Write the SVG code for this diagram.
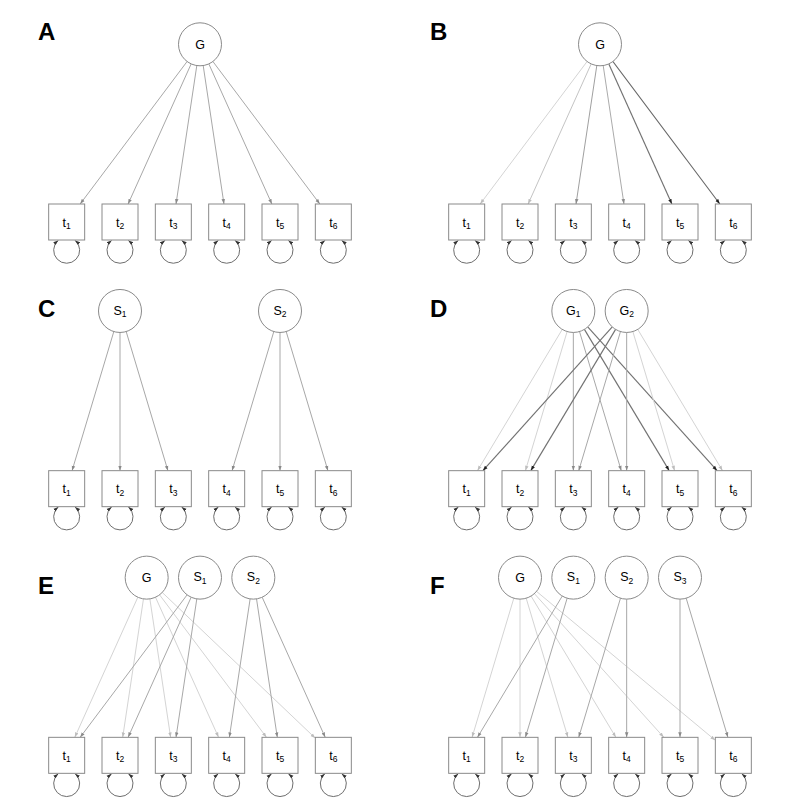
<svg xmlns="http://www.w3.org/2000/svg" width="800" height="800" viewBox="0 0 800 800">
  <style>
    .bg { fill: #ffffff; }
    .panel-label { font-family: "Liberation Sans", Arial, sans-serif; font-size: 24px; font-weight: bold; fill: #000; }
    .lat circle { fill: #ffffff; stroke: #8a8a8a; stroke-width: 1; }
    .obs rect { fill: #ffffff; stroke: #8a8a8a; stroke-width: 1; }
    .lbl { font-family: "Liberation Sans", Arial, sans-serif; font-size: 12.5px; fill: #000; text-anchor: middle; }
    .sub { font-size: 8.5px; }
    .edges line { fill: none; }
    .lt { stroke: #d4d4d4; stroke-width: 1; marker-end: url(#ah-l); }
    .lt2 { stroke: #c4c4c4; stroke-width: 1; marker-end: url(#ah-l); }
    .md { stroke: #a8a8a8; stroke-width: 1; marker-end: url(#ah-m); }
    .dk { stroke: #727272; stroke-width: 1.15; marker-end: url(#ah-d); }
    .loop { fill: none; stroke: #6e6e6e; stroke-width: 1; marker-start: url(#ah-loop); marker-end: url(#ah-loop); }
  </style>
  <defs>
    <marker id="ah-l" viewBox="0 0 10 10" refX="10" refY="5" markerWidth="5" markerHeight="5" markerUnits="userSpaceOnUse" orient="auto">
      <path d="M0,1.5L10,5L0,8.5z" fill="#bdbdbd"/>
    </marker>
    <marker id="ah-m" viewBox="0 0 10 10" refX="10" refY="5" markerWidth="5" markerHeight="5" markerUnits="userSpaceOnUse" orient="auto">
      <path d="M0,1.5L10,5L0,8.5z" fill="#8a8a8a"/>
    </marker>
    <marker id="ah-d" viewBox="0 0 10 10" refX="10" refY="5" markerWidth="5" markerHeight="5" markerUnits="userSpaceOnUse" orient="auto">
      <path d="M0,1.5L10,5L0,8.5z" fill="#222"/>
    </marker>
    <marker id="ah-loop" viewBox="0 0 10 10" refX="10" refY="5" markerWidth="5" markerHeight="5" markerUnits="userSpaceOnUse" orient="auto-start-reverse">
      <path d="M0,1.5L10,5L0,8.5z" fill="#333"/>
    </marker>
  </defs>

  <rect class="bg" x="0" y="0" width="800" height="800"/>

  <!-- panel letters -->
  <g id="panel-labels">
    <text class="panel-label" x="38" y="40">A</text>
    <text class="panel-label" x="430" y="40">B</text>
    <text class="panel-label" x="38" y="317">C</text>
    <text class="panel-label" x="430" y="317">D</text>
    <text class="panel-label" x="38" y="594">E</text>
    <text class="panel-label" x="430" y="594">F</text>
  </g>

  <!-- ===== connectors ===== -->
  <g id="connectors" class="edges">
    <!-- A: single general factor -->
    <g id="edges-A">
      <line class="md" x1="187.10" y1="61.50" x2="80.18" y2="204"/>
      <line class="md" x1="191.17" y1="63.90" x2="128.10" y2="204"/>
      <line class="md" x1="196.81" y1="65.56" x2="176.03" y2="204"/>
      <line class="md" x1="203.19" y1="65.56" x2="223.97" y2="204"/>
      <line class="md" x1="208.83" y1="63.90" x2="271.90" y2="204"/>
      <line class="md" x1="212.90" y1="61.50" x2="319.82" y2="204"/>
    </g>
    <!-- B: general factor, graded loadings -->
    <g id="edges-B">
      <line class="lt" x1="587.10" y1="61.50" x2="480.18" y2="204"/>
      <line class="lt2" x1="591.17" y1="63.90" x2="528.10" y2="204"/>
      <line class="md" x1="596.81" y1="65.56" x2="576.03" y2="204" style="stroke:#a0a0a0"/>
      <line class="md" x1="603.19" y1="65.56" x2="623.97" y2="204" style="stroke:#ababab"/>
      <line class="dk" x1="608.83" y1="63.90" x2="671.90" y2="204"/>
      <line class="dk" x1="612.90" y1="61.50" x2="719.82" y2="204" style="stroke:#666"/>
    </g>
    <!-- C: two specific factors -->
    <g id="edges-C">
      <line class="md" x1="113.82" y1="331.56" x2="72.07" y2="470.67"/>
      <line class="md" x1="120" y1="332.47" x2="120" y2="470.67"/>
      <line class="md" x1="126.18" y1="331.56" x2="167.93" y2="470.67"/>
      <line class="md" x1="273.82" y1="331.56" x2="232.07" y2="470.67"/>
      <line class="md" x1="280" y1="332.47" x2="280" y2="470.67"/>
      <line class="md" x1="286.18" y1="331.56" x2="327.93" y2="470.67"/>
    </g>
    <!-- D: two correlated general factors -->
    <g id="edges-D">
      <line class="lt" x1="562.26" y1="329.40" x2="477.48" y2="470.67"/>
      <line class="lt" x1="567.15" y1="331.56" x2="525.40" y2="470.67"/>
      <line class="md" x1="573.33" y1="332.47" x2="573.33" y2="470.67"/>
      <line class="md" x1="579.51" y1="331.56" x2="621.27" y2="470.67"/>
      <line class="dk" x1="584.40" y1="329.40" x2="669.19" y2="470.67"/>
      <line class="dk" x1="587.72" y1="326.95" x2="717.12" y2="470.67"/>
      <line class="dk" x1="612.28" y1="326.95" x2="482.88" y2="470.67"/>
      <line class="dk" x1="615.60" y1="329.40" x2="530.81" y2="470.67"/>
      <line class="md" x1="620.49" y1="331.56" x2="578.73" y2="470.67"/>
      <line class="md" x1="626.67" y1="332.47" x2="626.67" y2="470.67"/>
      <line class="lt" x1="632.85" y1="331.56" x2="674.60" y2="470.67"/>
      <line class="lt" x1="637.74" y1="329.40" x2="722.52" y2="470.67"/>
    </g>
    <!-- E: bifactor with two specific factors -->
    <g id="edges-E">
      <line class="lt" x1="137.84" y1="597.23" x2="74.77" y2="737.33"/>
      <line class="lt" x1="143.48" y1="598.89" x2="122.70" y2="737.33"/>
      <line class="lt" x1="149.86" y1="598.89" x2="170.63" y2="737.33"/>
      <line class="lt" x1="155.50" y1="597.23" x2="218.57" y2="737.33"/>
      <line class="lt" x1="159.57" y1="594.83" x2="266.49" y2="737.33"/>
      <line class="lt" x1="162.24" y1="592.45" x2="315.33" y2="738.19"/>
      <line class="md" x1="187.10" y1="594.83" x2="80.18" y2="737.33"/>
      <line class="md" x1="191.17" y1="597.23" x2="128.10" y2="737.33"/>
      <line class="md" x1="196.81" y1="598.89" x2="176.03" y2="737.33"/>
      <line class="md" x1="250.14" y1="598.89" x2="229.37" y2="737.33"/>
      <line class="md" x1="256.52" y1="598.89" x2="277.30" y2="737.33"/>
      <line class="md" x1="262.16" y1="597.23" x2="325.23" y2="737.33"/>
    </g>
    <!-- F: bifactor with three specific factors -->
    <g id="edges-F">
      <line class="lt" x1="513.82" y1="598.22" x2="472.07" y2="737.33"/>
      <line class="lt" x1="520" y1="599.13" x2="520" y2="737.33"/>
      <line class="lt" x1="526.18" y1="598.22" x2="567.93" y2="737.33"/>
      <line class="lt" x1="531.07" y1="596.06" x2="615.86" y2="737.33"/>
      <line class="lt" x1="534.39" y1="593.61" x2="663.79" y2="737.33"/>
      <line class="lt" x1="536.52" y1="591.39" x2="715.33" y2="740.34"/>
      <line class="md" x1="562.26" y1="596.06" x2="477.48" y2="737.33"/>
      <line class="md" x1="567.15" y1="598.22" x2="525.40" y2="737.33"/>
      <line class="md" x1="620.49" y1="598.22" x2="578.73" y2="737.33"/>
      <line class="md" x1="626.67" y1="599.13" x2="626.67" y2="737.33"/>
      <line class="md" x1="680" y1="599.13" x2="680" y2="737.33"/>
      <line class="md" x1="686.18" y1="598.22" x2="727.93" y2="737.33"/>
    </g>
    <!-- residual variance loops under every indicator -->
    <g id="variance-loops">
      <path class="loop" d="M58.17,240.4A13,13 0 1 0 75.17,240.4"/>
      <path class="loop" d="M111.5,240.4A13,13 0 1 0 128.5,240.4"/>
      <path class="loop" d="M164.83,240.4A13,13 0 1 0 181.83,240.4"/>
      <path class="loop" d="M218.17,240.4A13,13 0 1 0 235.17,240.4"/>
      <path class="loop" d="M271.5,240.4A13,13 0 1 0 288.5,240.4"/>
      <path class="loop" d="M324.83,240.4A13,13 0 1 0 341.83,240.4"/>
      <path class="loop" d="M458.17,240.4A13,13 0 1 0 475.17,240.4"/>
      <path class="loop" d="M511.5,240.4A13,13 0 1 0 528.5,240.4"/>
      <path class="loop" d="M564.83,240.4A13,13 0 1 0 581.83,240.4"/>
      <path class="loop" d="M618.17,240.4A13,13 0 1 0 635.17,240.4"/>
      <path class="loop" d="M671.5,240.4A13,13 0 1 0 688.5,240.4"/>
      <path class="loop" d="M724.83,240.4A13,13 0 1 0 741.83,240.4"/>

      <path class="loop" d="M58.17,507.07A13,13 0 1 0 75.17,507.07"/>
      <path class="loop" d="M111.5,507.07A13,13 0 1 0 128.5,507.07"/>
      <path class="loop" d="M164.83,507.07A13,13 0 1 0 181.83,507.07"/>
      <path class="loop" d="M218.17,507.07A13,13 0 1 0 235.17,507.07"/>
      <path class="loop" d="M271.5,507.07A13,13 0 1 0 288.5,507.07"/>
      <path class="loop" d="M324.83,507.07A13,13 0 1 0 341.83,507.07"/>
      <path class="loop" d="M458.17,507.07A13,13 0 1 0 475.17,507.07"/>
      <path class="loop" d="M511.5,507.07A13,13 0 1 0 528.5,507.07"/>
      <path class="loop" d="M564.83,507.07A13,13 0 1 0 581.83,507.07"/>
      <path class="loop" d="M618.17,507.07A13,13 0 1 0 635.17,507.07"/>
      <path class="loop" d="M671.5,507.07A13,13 0 1 0 688.5,507.07"/>
      <path class="loop" d="M724.83,507.07A13,13 0 1 0 741.83,507.07"/>

      <path class="loop" d="M58.17,773.73A13,13 0 1 0 75.17,773.73"/>
      <path class="loop" d="M111.5,773.73A13,13 0 1 0 128.5,773.73"/>
      <path class="loop" d="M164.83,773.73A13,13 0 1 0 181.83,773.73"/>
      <path class="loop" d="M218.17,773.73A13,13 0 1 0 235.17,773.73"/>
      <path class="loop" d="M271.5,773.73A13,13 0 1 0 288.5,773.73"/>
      <path class="loop" d="M324.83,773.73A13,13 0 1 0 341.83,773.73"/>
      <path class="loop" d="M458.17,773.73A13,13 0 1 0 475.17,773.73"/>
      <path class="loop" d="M511.5,773.73A13,13 0 1 0 528.5,773.73"/>
      <path class="loop" d="M564.83,773.73A13,13 0 1 0 581.83,773.73"/>
      <path class="loop" d="M618.17,773.73A13,13 0 1 0 635.17,773.73"/>
      <path class="loop" d="M671.5,773.73A13,13 0 1 0 688.5,773.73"/>
      <path class="loop" d="M724.83,773.73A13,13 0 1 0 741.83,773.73"/>
    </g>
  </g>

  <!-- ===== nodes ===== -->
  <!-- Panel A -->
  <g id="A-G" class="lat"><circle cx="200" cy="44.3" r="21.5"/><text class="lbl" x="200" y="48.8">G</text></g>
  <g id="A-t1" class="obs"><rect x="48.67" y="204" width="36" height="36"/><text class="lbl" x="66.67" y="226.5">t<tspan class="sub" dy="2.5">1</tspan></text></g>
  <g id="A-t2" class="obs"><rect x="102" y="204" width="36" height="36"/><text class="lbl" x="120" y="226.5">t<tspan class="sub" dy="2.5">2</tspan></text></g>
  <g id="A-t3" class="obs"><rect x="155.33" y="204" width="36" height="36"/><text class="lbl" x="173.33" y="226.5">t<tspan class="sub" dy="2.5">3</tspan></text></g>
  <g id="A-t4" class="obs"><rect x="208.67" y="204" width="36" height="36"/><text class="lbl" x="226.67" y="226.5">t<tspan class="sub" dy="2.5">4</tspan></text></g>
  <g id="A-t5" class="obs"><rect x="262" y="204" width="36" height="36"/><text class="lbl" x="280" y="226.5">t<tspan class="sub" dy="2.5">5</tspan></text></g>
  <g id="A-t6" class="obs"><rect x="315.33" y="204" width="36" height="36"/><text class="lbl" x="333.33" y="226.5">t<tspan class="sub" dy="2.5">6</tspan></text></g>

  <!-- Panel B -->
  <g id="B-G" class="lat"><circle cx="600" cy="44.3" r="21.5"/><text class="lbl" x="600" y="48.8">G</text></g>
  <g id="B-t1" class="obs"><rect x="448.67" y="204" width="36" height="36"/><text class="lbl" x="466.67" y="226.5">t<tspan class="sub" dy="2.5">1</tspan></text></g>
  <g id="B-t2" class="obs"><rect x="502" y="204" width="36" height="36"/><text class="lbl" x="520" y="226.5">t<tspan class="sub" dy="2.5">2</tspan></text></g>
  <g id="B-t3" class="obs"><rect x="555.33" y="204" width="36" height="36"/><text class="lbl" x="573.33" y="226.5">t<tspan class="sub" dy="2.5">3</tspan></text></g>
  <g id="B-t4" class="obs"><rect x="608.67" y="204" width="36" height="36"/><text class="lbl" x="626.67" y="226.5">t<tspan class="sub" dy="2.5">4</tspan></text></g>
  <g id="B-t5" class="obs"><rect x="662" y="204" width="36" height="36"/><text class="lbl" x="680" y="226.5">t<tspan class="sub" dy="2.5">5</tspan></text></g>
  <g id="B-t6" class="obs"><rect x="715.33" y="204" width="36" height="36"/><text class="lbl" x="733.33" y="226.5">t<tspan class="sub" dy="2.5">6</tspan></text></g>

  <!-- Panel C -->
  <g id="C-S1" class="lat"><circle cx="120" cy="310.97" r="21.5"/><text class="lbl" x="120" y="314.5">S<tspan class="sub" dy="2.5">1</tspan></text></g>
  <g id="C-S2" class="lat"><circle cx="280" cy="310.97" r="21.5"/><text class="lbl" x="280" y="314.5">S<tspan class="sub" dy="2.5">2</tspan></text></g>
  <g id="C-t1" class="obs"><rect x="48.67" y="470.67" width="36" height="36"/><text class="lbl" x="66.67" y="493.17">t<tspan class="sub" dy="2.5">1</tspan></text></g>
  <g id="C-t2" class="obs"><rect x="102" y="470.67" width="36" height="36"/><text class="lbl" x="120" y="493.17">t<tspan class="sub" dy="2.5">2</tspan></text></g>
  <g id="C-t3" class="obs"><rect x="155.33" y="470.67" width="36" height="36"/><text class="lbl" x="173.33" y="493.17">t<tspan class="sub" dy="2.5">3</tspan></text></g>
  <g id="C-t4" class="obs"><rect x="208.67" y="470.67" width="36" height="36"/><text class="lbl" x="226.67" y="493.17">t<tspan class="sub" dy="2.5">4</tspan></text></g>
  <g id="C-t5" class="obs"><rect x="262" y="470.67" width="36" height="36"/><text class="lbl" x="280" y="493.17">t<tspan class="sub" dy="2.5">5</tspan></text></g>
  <g id="C-t6" class="obs"><rect x="315.33" y="470.67" width="36" height="36"/><text class="lbl" x="333.33" y="493.17">t<tspan class="sub" dy="2.5">6</tspan></text></g>

  <!-- Panel D -->
  <g id="D-G1" class="lat"><circle cx="573.33" cy="310.97" r="21.5"/><text class="lbl" x="573.33" y="314.5">G<tspan class="sub" dy="2.5">1</tspan></text></g>
  <g id="D-G2" class="lat"><circle cx="626.67" cy="310.97" r="21.5"/><text class="lbl" x="626.67" y="314.5">G<tspan class="sub" dy="2.5">2</tspan></text></g>
  <g id="D-t1" class="obs"><rect x="448.67" y="470.67" width="36" height="36"/><text class="lbl" x="466.67" y="493.17">t<tspan class="sub" dy="2.5">1</tspan></text></g>
  <g id="D-t2" class="obs"><rect x="502" y="470.67" width="36" height="36"/><text class="lbl" x="520" y="493.17">t<tspan class="sub" dy="2.5">2</tspan></text></g>
  <g id="D-t3" class="obs"><rect x="555.33" y="470.67" width="36" height="36"/><text class="lbl" x="573.33" y="493.17">t<tspan class="sub" dy="2.5">3</tspan></text></g>
  <g id="D-t4" class="obs"><rect x="608.67" y="470.67" width="36" height="36"/><text class="lbl" x="626.67" y="493.17">t<tspan class="sub" dy="2.5">4</tspan></text></g>
  <g id="D-t5" class="obs"><rect x="662" y="470.67" width="36" height="36"/><text class="lbl" x="680" y="493.17">t<tspan class="sub" dy="2.5">5</tspan></text></g>
  <g id="D-t6" class="obs"><rect x="715.33" y="470.67" width="36" height="36"/><text class="lbl" x="733.33" y="493.17">t<tspan class="sub" dy="2.5">6</tspan></text></g>

  <!-- Panel E -->
  <g id="E-G" class="lat"><circle cx="146.67" cy="577.63" r="21.5"/><text class="lbl" x="146.67" y="582">G</text></g>
  <g id="E-S1" class="lat"><circle cx="200" cy="577.63" r="21.5"/><text class="lbl" x="200" y="581.2">S<tspan class="sub" dy="2.5">1</tspan></text></g>
  <g id="E-S2" class="lat"><circle cx="253.33" cy="577.63" r="21.5"/><text class="lbl" x="253.33" y="581.2">S<tspan class="sub" dy="2.5">2</tspan></text></g>
  <g id="E-t1" class="obs"><rect x="48.67" y="737.33" width="36" height="36"/><text class="lbl" x="66.67" y="759.83">t<tspan class="sub" dy="2.5">1</tspan></text></g>
  <g id="E-t2" class="obs"><rect x="102" y="737.33" width="36" height="36"/><text class="lbl" x="120" y="759.83">t<tspan class="sub" dy="2.5">2</tspan></text></g>
  <g id="E-t3" class="obs"><rect x="155.33" y="737.33" width="36" height="36"/><text class="lbl" x="173.33" y="759.83">t<tspan class="sub" dy="2.5">3</tspan></text></g>
  <g id="E-t4" class="obs"><rect x="208.67" y="737.33" width="36" height="36"/><text class="lbl" x="226.67" y="759.83">t<tspan class="sub" dy="2.5">4</tspan></text></g>
  <g id="E-t5" class="obs"><rect x="262" y="737.33" width="36" height="36"/><text class="lbl" x="280" y="759.83">t<tspan class="sub" dy="2.5">5</tspan></text></g>
  <g id="E-t6" class="obs"><rect x="315.33" y="737.33" width="36" height="36"/><text class="lbl" x="333.33" y="759.83">t<tspan class="sub" dy="2.5">6</tspan></text></g>

  <!-- Panel F -->
  <g id="F-G" class="lat"><circle cx="520" cy="577.63" r="21.5"/><text class="lbl" x="520" y="582">G</text></g>
  <g id="F-S1" class="lat"><circle cx="573.33" cy="577.63" r="21.5"/><text class="lbl" x="573.33" y="581.2">S<tspan class="sub" dy="2.5">1</tspan></text></g>
  <g id="F-S2" class="lat"><circle cx="626.67" cy="577.63" r="21.5"/><text class="lbl" x="626.67" y="581.2">S<tspan class="sub" dy="2.5">2</tspan></text></g>
  <g id="F-S3" class="lat"><circle cx="680" cy="577.63" r="21.5"/><text class="lbl" x="680" y="581.2">S<tspan class="sub" dy="2.5">3</tspan></text></g>
  <g id="F-t1" class="obs"><rect x="448.67" y="737.33" width="36" height="36"/><text class="lbl" x="466.67" y="759.83">t<tspan class="sub" dy="2.5">1</tspan></text></g>
  <g id="F-t2" class="obs"><rect x="502" y="737.33" width="36" height="36"/><text class="lbl" x="520" y="759.83">t<tspan class="sub" dy="2.5">2</tspan></text></g>
  <g id="F-t3" class="obs"><rect x="555.33" y="737.33" width="36" height="36"/><text class="lbl" x="573.33" y="759.83">t<tspan class="sub" dy="2.5">3</tspan></text></g>
  <g id="F-t4" class="obs"><rect x="608.67" y="737.33" width="36" height="36"/><text class="lbl" x="626.67" y="759.83">t<tspan class="sub" dy="2.5">4</tspan></text></g>
  <g id="F-t5" class="obs"><rect x="662" y="737.33" width="36" height="36"/><text class="lbl" x="680" y="759.83">t<tspan class="sub" dy="2.5">5</tspan></text></g>
  <g id="F-t6" class="obs"><rect x="715.33" y="737.33" width="36" height="36"/><text class="lbl" x="733.33" y="759.83">t<tspan class="sub" dy="2.5">6</tspan></text></g>
</svg>
